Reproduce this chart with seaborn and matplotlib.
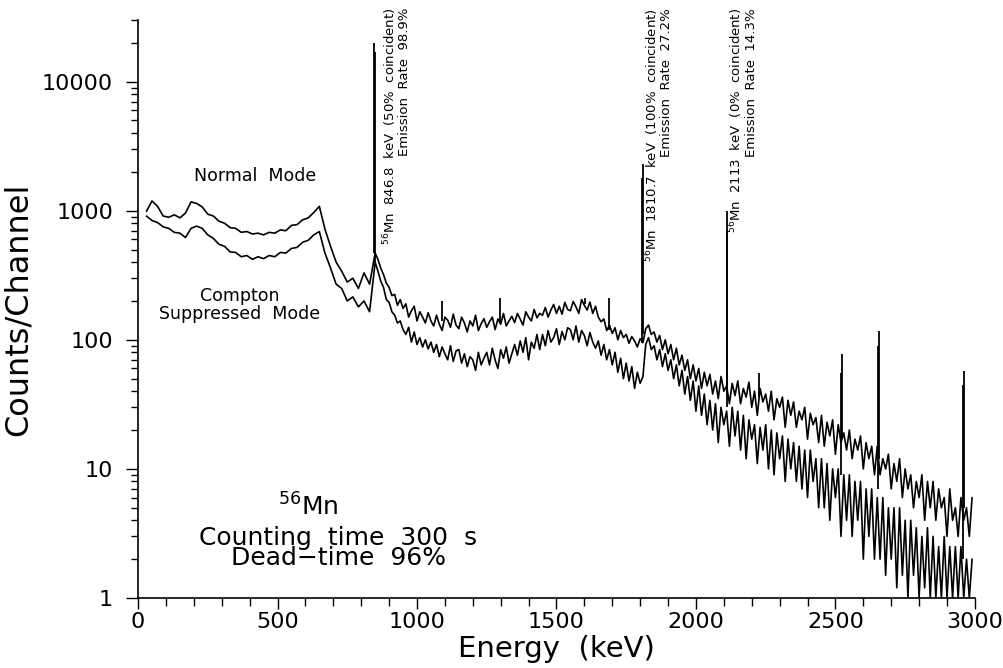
import numpy as np
import pandas as pd
import matplotlib
matplotlib.use("Agg")
import matplotlib.pyplot as plt
import matplotlib.transforms as mtransforms
import seaborn as sns

# channel energies (keV): coarse grid below the 847 keV line, finer above it
energy_low = np.arange(30, 850, 20)
energy_high = np.arange(850, 3000, 10)

# Normal mode counts
normal_low = [990, 1190, 1080, 910, 890, 930, 880, 960, 1170, 1140,
              1070, 940, 910, 830, 800, 740, 730, 680, 690, 660,
              670, 650, 680, 670, 710, 700, 770, 780, 850, 880,
              970, 1080, 720, 530, 400, 340, 280, 300, 250, 330, 270]
normal_high = [470, 420, 360, 320, 275, 255, 220, 225, 185, 205,
               175, 190, 150, 168, 182, 140, 165, 150, 135, 162,
               140, 128, 155, 132, 118, 150, 142, 125, 158, 130,
               122, 150, 135, 115, 140, 128, 155, 118, 133, 146,
               125, 138, 150, 120, 145, 132, 160, 128, 140, 152,
               136, 160, 145, 130, 165, 150, 140, 172, 148, 160,
               155, 178, 150, 170, 188, 160, 182, 158, 195, 172,
               168, 198, 180, 160, 205, 185, 170, 196, 160, 182,
               150, 138, 145, 118, 130, 112, 124, 100, 118, 104,
               110, 94, 106, 98, 88, 102, 95, 122, 130, 110,
               115, 96, 108, 84, 100, 78, 92, 70, 86, 64,
               76, 58, 70, 50, 64, 48, 60, 42, 56, 44,
               54, 38, 48, 35, 52, 40, 44, 32, 46, 37,
               48, 32, 42, 36, 47, 30, 40, 26, 42, 33,
               38, 28, 40, 24, 35, 30, 36, 21, 34, 26,
               33, 21, 28, 24, 30, 17, 27, 22, 25, 16,
               26, 15, 23, 18, 24, 13, 22, 16, 19, 14,
               20, 12, 17, 14, 18, 10, 16, 12, 15, 9,
               15, 9, 12, 10, 13, 7, 11, 8, 12, 6,
               10, 7, 9, 5, 8, 6, 9, 4, 8, 5,
               8, 4, 7, 5, 6, 3, 7, 4, 5, 3,
               6, 4, 5, 3, 6]

# Compton suppressed mode counts
supp_low = [910, 840, 810, 750, 730, 680, 670, 620, 730, 760,
            730, 650, 610, 550, 530, 480, 475, 440, 450, 420,
            440, 425, 450, 440, 475, 470, 510, 520, 570, 590,
            650, 690, 470, 360, 270, 250, 200, 215, 180, 200, 165]
supp_high = [400, 340, 285, 255, 205, 195, 165, 155, 135, 140,
             120, 110, 125, 96, 115, 92, 104, 88, 100, 85,
             96, 80, 92, 74, 88, 78, 70, 90, 68, 82,
             84, 66, 78, 62, 74, 70, 58, 80, 64, 72,
             80, 64, 86, 70, 60, 84, 72, 88, 66, 78,
             92, 76, 98, 80, 104, 70, 96, 86, 110, 84,
             110, 90, 118, 96, 104, 122, 92, 116, 100, 124,
             120, 100, 128, 96, 118, 108, 90, 114, 96, 86,
             98, 76, 92, 70, 84, 64, 80, 56, 72, 50,
             66, 48, 62, 42, 56, 46, 52, 92, 104, 84,
             90, 70, 84, 62, 78, 58, 70, 50, 64, 44,
             58, 38, 52, 34, 48, 28, 44, 26, 38, 22,
             34, 20, 32, 16, 30, 22, 28, 15, 30, 18,
             28, 14, 26, 12, 24, 17, 22, 11, 21, 14,
             22, 10, 20, 9, 19, 12, 18, 8, 17, 10,
             16, 8, 15, 7, 14, 6, 14, 8, 12, 5,
             12, 5, 11, 4, 10, 6, 10, 3, 9, 4,
             9, 3, 8, 4, 8, 2, 7, 3, 7, 2,
             6, 2, 6, 1.5, 5, 2, 5, 1.2, 5, 1.5,
             4, 1, 4, 1.5, 3.5, 1, 3, 1.2, 3.5, 1,
             3, 1, 2.5, 1, 3, 1, 2.5, 1, 2.5, 1,
             2.5, 1, 2, 1, 2]

# full-energy peaks (keV), base and top counts
normal_peak_e = [845, 1811, 2113, 1088, 1296, 1604, 1689, 2225, 2523, 2657, 2960]
normal_peak_base = [470, 110, 42, 140, 135, 190, 120, 36, 17, 12, 5]
normal_peak_top = [20000, 2300, 1000, 200, 210, 210, 210, 55, 78, 117, 57]
supp_peak_e = [849, 1808, 2110, 2520, 2654, 2957]
supp_peak_base = [400, 95, 30, 9, 7, 2]
supp_peak_top = [17000, 1800, 700, 55, 90, 45]

df = pd.DataFrame({
    "Energy": np.concatenate([energy_low, energy_high, energy_low, energy_high]),
    "Counts": normal_low + normal_high + supp_low + supp_high,
    "Mode": ["Normal"] * (len(normal_low) + len(normal_high))
            + ["Suppressed"] * (len(supp_low) + len(supp_high)),
})

sns.set_style("ticks")
plt.rcParams["font.family"] = ["DejaVu Sans"]
plt.rcParams["text.color"] = "black"
plt.rcParams["axes.labelcolor"] = "black"
plt.rcParams["xtick.color"] = "black"
plt.rcParams["ytick.color"] = "black"

fig = plt.figure(figsize=(10.04, 6.68), dpi=100)
ax = fig.add_axes([0.1375, 0.1048, 0.8335, 0.8652])

sns.lineplot(data=df, x="Energy", y="Counts", hue="Mode", units="Mode",
             estimator=None, palette=["black", "black"], linewidth=1.2,
             legend=False, ax=ax)
ax.vlines(normal_peak_e, normal_peak_base, normal_peak_top, color="black", lw=1.3)
ax.vlines(supp_peak_e, supp_peak_base, supp_peak_top, color="black", lw=1.3)

ax.set_yscale("log")
ax.set_xlim(0, 3000)
ax.set_ylim(1, 30000)
ax.set_xticks([0, 500, 1000, 1500, 2000, 2500, 3000])
ax.set_xticks(np.arange(0, 3001, 100), minor=True)
ax.set_yticks([1, 10, 100, 1000, 10000])
ax.set_yticklabels(["1", "10", "100", "1000", "10000"])
ax.tick_params(axis="x", which="major", direction="out", length=8, width=1, labelsize=16, pad=2)
ax.tick_params(axis="x", which="minor", direction="out", length=6, width=1)
ax.tick_params(axis="y", which="major", direction="out", length=9, width=1, labelsize=16, pad=9)
ax.tick_params(axis="y", which="minor", direction="out", length=5, width=1)
for side in ["top", "right"]:
    ax.spines[side].set_visible(False)
for side in ["left", "bottom"]:
    ax.spines[side].set_linewidth(1.2)
    ax.spines[side].set_color("black")

ax.set_xlabel("Energy  (keV)", fontsize=21, labelpad=2)
ax.set_ylabel("Counts/Channel", fontsize=23, labelpad=6)

ax.text(418, 1860, "Normal  Mode", fontsize=12.5, ha="center", va="center")
ax.text(364, 186, "Compton\nSuppressed  Mode", fontsize=12.5, ha="center", va="center",
        linespacing=1.0)
ax.text(611, 4.37, "$^{56}$Mn", fontsize=18, ha="center", va="baseline")
ax.text(718, 2.43, "Counting  time  300  s\nDead\u2212time  96%", fontsize=18,
        ha="center", va="center", linespacing=0.8)

trans = mtransforms.blended_transform_factory(ax.transData, ax.transAxes)
labels = [
    (925, "$^{56}$Mn  846.8  keV  (50%  coincident)\nEmission  Rate  98.9%"),
    (1864, "$^{56}$Mn  1810.7  keV  (100%  coincident)\nEmission  Rate  27.2%"),
    (2168, "$^{56}$Mn  2113  keV  (0%  coincident)\nEmission  Rate  14.3%"),
]
for x, s in labels:
    ax.text(x, 1.021, s, transform=trans, rotation=90, fontsize=9.5,
            ha="center", va="top", multialignment="right", linespacing=0.95)

fig.savefig("out.png", dpi=100)
